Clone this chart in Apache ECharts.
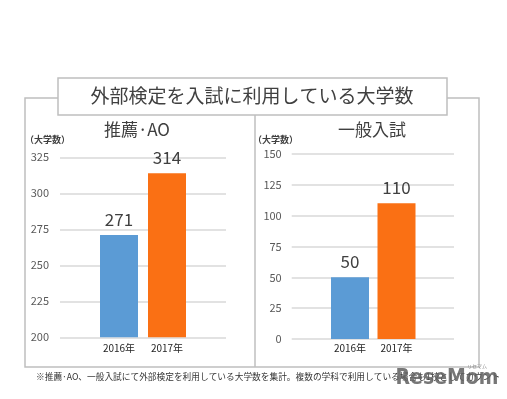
<!DOCTYPE html>
<html><head><meta charset="utf-8">
<script src="https://cdn.jsdelivr.net/npm/echarts@6/dist/echarts.min.js"></script>
<style>html,body{margin:0;padding:0;background:#fff;}#c{width:507px;height:399px;}</style>
</head><body><div id="c"></div>
<script>
const categories = ['2016年', '2017年'];
const suisenValues = [271, 314];
const ippanValues = [50, 110];
const barColors = ['#5B9BD5', '#FA7014'];
const mainTitle = '外部検定を入試に利用している大学数';
const panelTitles = ['推薦·AO', '一般入試'];
const unitLabel = '（大学数）';
const footnote = '※推薦·AO、一般入試にて外部検定を利用している大学数を集計。複数の学科で利用している場合も1校としてカウント';
const leftAxis = { min: 200, max: 325, interval: 25 };
const rightAxis = { min: 0, max: 150, interval: 25 };

const FONT = '"Noto Sans CJK JP", "Noto Sans", sans-serif';
const chart = echarts.init(document.getElementById('c'), null, { renderer: 'canvas' });

function bgY(idx, ax, margin) {
  return { gridIndex: idx, type: 'value', min: ax.min, max: ax.max, interval: ax.interval,
    axisLine: { show: false }, axisTick: { show: false },
    axisLabel: { color: '#595959', fontSize: 11, margin: margin, fontFamily: FONT },
    splitLine: { lineStyle: { color: '#D9D9D9', width: 1.5 } } };
}
function fgY(idx, ax) {
  return { gridIndex: idx, type: 'value', min: ax.min, max: ax.max, interval: ax.interval, show: false, splitLine: { show: false } };
}
function fgX(idx, margin) {
  return { gridIndex: idx, type: 'category', data: categories,
    axisLine: { show: false }, axisTick: { show: false },
    axisLabel: { color: '#262626', fontSize: 10, margin: margin, fontFamily: FONT } };
}
function barSeries(xi, yi, vals) {
  return { type: 'bar', xAxisIndex: xi, yAxisIndex: yi, barWidth: 38, clip: true,
    data: vals.map((v, i) => ({ value: v, itemStyle: { color: barColors[i] } })),
    label: { show: true, position: 'top', distance: 7, fontSize: 17, color: '#404040', fontFamily: FONT } };
}

const option = {
  backgroundColor: '#fff',
  animation: false,
  grid: [
    { left: 60, width: 166, top: 157.3, bottom: 61.7 },
    { left: 95, width: 96, top: 157.3, bottom: 61.7 },
    { left: 291.7, width: 162.3, top: 154, bottom: 60 },
    { left: 326.75, width: 93, top: 154, bottom: 60 }
  ],
  xAxis: [
    { gridIndex: 0, type: 'value', show: false, splitLine: { show: false } },
    fgX(1, 6),
    { gridIndex: 2, type: 'value', show: false, splitLine: { show: false } },
    fgX(3, 4)
  ],
  yAxis: [ bgY(0, leftAxis, 11), fgY(1, leftAxis), bgY(2, rightAxis, 10), fgY(3, rightAxis) ],
  series: [ barSeries(1, 1, suisenValues), barSeries(3, 3, ippanValues) ],
  graphic: [
    { type: 'rect', shape: { x: 25, y: 98, width: 454, height: 269 }, style: { fill: 'none', stroke: '#BFBFBF', lineWidth: 1.5 }, z: 1 },
    { type: 'line', shape: { x1: 255, y1: 115, x2: 255, y2: 367 }, style: { stroke: '#BFBFBF', lineWidth: 1.5 }, z: 1 },
    { type: 'rect', shape: { x: 58, y: 78, width: 389, height: 37 }, style: { fill: '#fff', stroke: '#BFBFBF', lineWidth: 1.5 }, z: 2 },
    { type: 'text', x: 252, y: 96, z: 3, style: { text: mainTitle, fontSize: 19, fill: '#404040', fontFamily: FONT, align: 'center', verticalAlign: 'middle' } },
    { type: 'text', x: 137, y: 130, z: 3, style: { text: panelTitles[0], fontSize: 17, fill: '#404040', fontFamily: FONT, align: 'center', verticalAlign: 'middle' } },
    { type: 'text', x: 372, y: 130, z: 3, style: { text: panelTitles[1], fontSize: 17, fill: '#404040', fontFamily: FONT, align: 'center', verticalAlign: 'middle' } },
    { type: 'text', x: 25, y: 140, z: 3, style: { text: unitLabel, fontSize: 9, fontWeight: 'bold', fill: '#404040', fontFamily: FONT, align: 'left', verticalAlign: 'middle' } },
    { type: 'text', x: 253, y: 140, z: 3, style: { text: unitLabel, fontSize: 9, fontWeight: 'bold', fill: '#404040', fontFamily: FONT, align: 'left', verticalAlign: 'middle' } },
    { type: 'text', x: 36, y: 377, z: 3, style: { text: footnote, fontSize: 8.7, fill: '#333', fontFamily: FONT, align: 'left', verticalAlign: 'middle' } },
    { type: 'text', x: 447, y: 379, z: 5, style: { text: 'ReseMom', fontSize: 21, fontWeight: 'bold', fill: 'rgba(95,95,95,0.85)', fontFamily: '"DejaVu Sans Condensed", "Liberation Sans Narrow", sans-serif', align: 'center', verticalAlign: 'middle' } },
    { type: 'text', x: 477, y: 366, z: 5, style: { text: 'リセマム', fontSize: 5, fill: '#888', fontFamily: FONT, align: 'center', verticalAlign: 'middle' } }
  ]
};
chart.setOption(option);
</script>
</body></html>
